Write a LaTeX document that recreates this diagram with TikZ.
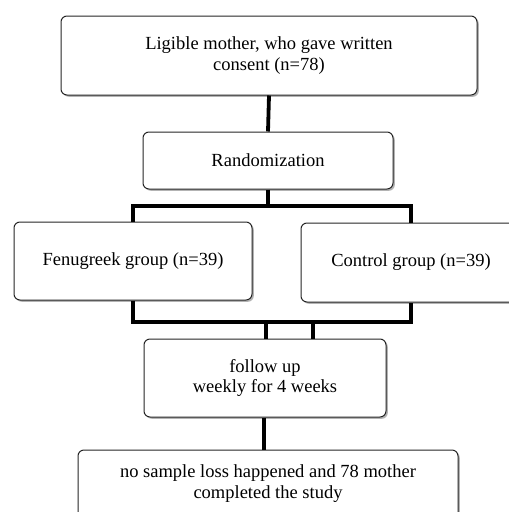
\documentclass[tikz,border=0pt]{standalone}
\usepackage{fontspec}
\setmainfont{Liberation Serif}
\usetikzlibrary{shadows}

\tikzset{
  box/.style={draw=black!85,line width=1pt,rounded corners=6pt,fill=white,
    drop shadow={shadow xshift=1.8pt,shadow yshift=-1.8pt,opacity=0.6},
    align=center,inner sep=0pt,font=\fontsize{18.5}{20.5}\selectfont},
  link/.style={line width=3.8pt}
}

\begin{document}
\begin{tikzpicture}[x=1pt,y=-1pt]
		\useasboundingbox (0,0) rectangle (509,512);
		\clip (0,0) rectangle (509,512);
		\coordinate (c0) at (269,55.5);
		\coordinate (c1) at (268,160.5);
		\coordinate (c2) at (133,261);
		\coordinate (c3) at (411,262.5);
		\coordinate (c4) at (265,378);
		\coordinate (c5) at (268,484);
		\coordinate (j1) at (268,206);
		\coordinate (j2) at (268,322);
		\coordinate (j3) at (266,322);
		\coordinate (j4) at (313,322);
		% links first, boxes on top
		\node[box,minimum width=416pt,minimum height=79pt] (cons) at (c0) {Ligible mother, who gave written\\consent (n=78)};
		\node[box,minimum width=250pt,minimum height=57pt] (rand) at (c1) {Randomization};
		\node[box,minimum width=238pt,minimum height=78pt] (fg) at (c2) {Fenugreek group (n=39)};
		\node[box,minimum width=220pt,minimum height=79pt] (cg) at (c3) {Control group (n=39)};
		\node[box,minimum width=242pt,minimum height=78pt] (fu) at (c4) {follow up\\weekly for 4 weeks};
		\node[box,minimum width=380pt,minimum height=80pt,yshift=-6pt] (done) at (c5) {\raisebox{27pt}{\parbox{370pt}{\centering no sample loss happened and 78 mother\\completed the study}}};
		\draw[link] (cons.south) -- (rand.north);
		\draw[link] (rand.south) -- (j1);
		\draw[link] (fg.north) |- (j1) -| (cg.north);
		\draw[link] (fg.south) |- (j2) -| (cg.south);
		\draw[link] (j3) -- (j3 |- fu.north);
		\draw[link] (j4) -- (j4 |- fu.north);
		\draw[link] (fu.south -| 264,0) -- (done.north -| 264,0);
	\end{tikzpicture}
\end{document}
